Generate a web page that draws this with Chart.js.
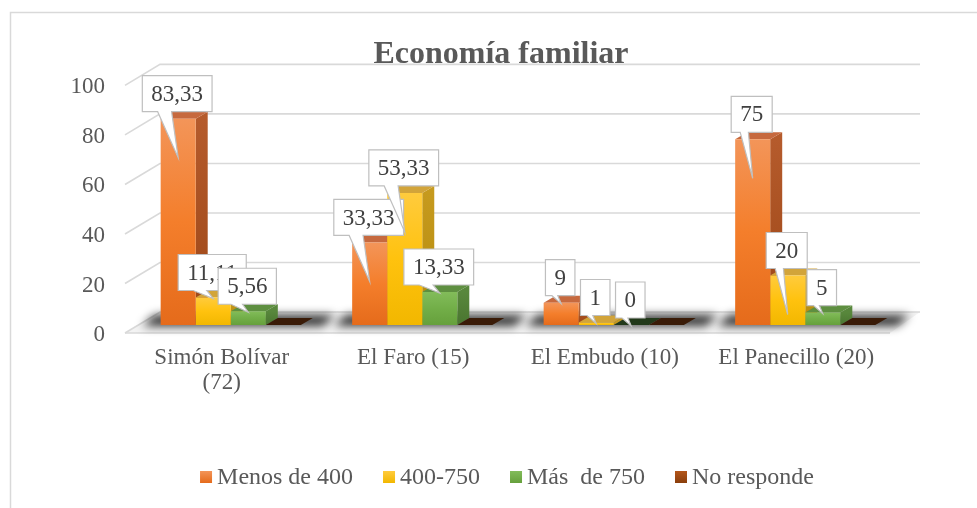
<!DOCTYPE html>
<html>
<head>
<meta charset="utf-8">
<script src="https://cdn.jsdelivr.net/npm/chart.js@4.4.1/dist/chart.umd.min.js"></script>
<style>
    html, body { margin: 0; padding: 0; background: #fff; }
    #wrap { width: 977px; height: 508px; }
</style>
</head>
<body>
<div id="wrap"><canvas id="EconomiaChart" width="977" height="508"></canvas></div>
<script>
// datos
var categorias = [["Simón Bolívar", "(72)"], "El Faro (15)", "El Embudo (10)", "El Panecillo (20)"];
var series = ["Menos de 400", "400-750", "Más  de 750", "No responde"];
var menos400 = [83.33, 33.33, 9, 75];
var de400a750 = [11.11, 53.33, 1, 20];
var mas750 = [5.56, 13.33, 0, 5];
var noResponde = [0, 0, 0, 0];
var mostrarValores = [true, true, true, false];
var yMax = 100, yPaso = 20;

// colores (frente, lado, tapa, tapa sin altura)
var FRENTE = [["#F39559", "#F47E2B", "#E56B1B"], ["#FFCB3D", "#FFC20E", "#F2B700"], ["#82BC5A", "#72AE48", "#66A03C"], ["#B4561A", "#9E480E", "#8A3E0C"]];
var LADO = [["#B55B2C", "#9C4616"], ["#C69A1E", "#B48A0C"], ["#58873C", "#4A7530"], ["#6E320A", "#5A2908"]];
var TAPA = ["#C6693E", "#D2A43A", "#5E8F40", "#4A2208"];
var PLANO = ["#C6693E", "#A8831F", "#22391A", "#3A1B07"];
var FUENTE = "Liberation Serif";
var GRIS = "#595959";
var DX = 12, DY = -7;

function frontFill(i) {
    return function (context) {
        var chart = context.chart;
        if (!chart.chartArea || context.type !== "data") return FRENTE[i][1];
        var y = chart.scales.y;
        var top = y.getPixelForValue(context.raw);
        var base = y.getPixelForValue(0);
        if (base - top < 1) return FRENTE[i][1];
        var g = chart.ctx.createLinearGradient(0, top, 0, base);
        g.addColorStop(0, FRENTE[i][0]);
        g.addColorStop(0.5, FRENTE[i][1]);
        g.addColorStop(1, FRENTE[i][2]);
        return g;
    };
}

function poly(ctx, pts, fill) {
    ctx.beginPath();
    ctx.moveTo(pts[0][0], pts[0][1]);
    for (var k = 1; k < pts.length; k++) ctx.lineTo(pts[k][0], pts[k][1]);
    ctx.closePath();
    ctx.fillStyle = fill;
    ctx.fill();
}

// fondo y marco
var fondoPlugin = {
    id: "fondo",
    beforeDraw: function (chart) {
        var ctx = chart.ctx;
        ctx.save();
        ctx.fillStyle = "#fff";
        ctx.fillRect(0, 0, chart.width, chart.height);
        ctx.strokeStyle = "#D9D9D9";
        ctx.lineWidth = 1.5;
        ctx.beginPath();
        ctx.moveTo(10.5, chart.height);
        ctx.lineTo(10.5, 12.5);
        ctx.lineTo(chart.width, 12.5);
        ctx.stroke();
        ctx.restore();
    }
};

// pared, piso y caras 3D de las barras
var piso3dPlugin = {
    id: "piso3d",
    beforeDatasetsDraw: function (chart) {
        var ctx = chart.ctx, a = chart.chartArea, y = chart.scales.y;
        var xl = a.left - 10, xb = a.left + 25, xr = a.right + 19;
        ctx.save();
        // piso
        var y0 = y.getPixelForValue(0);
        poly(ctx, [[xl, y0 + 8], [a.right - 11, y0 + 8], [xr, y0 - 13], [xb, y0 - 13]], "#F3F3F3");
        // lineas de la pared
        ctx.strokeStyle = "#D9D9D9";
        ctx.lineWidth = 1.6;
        for (var v = 0; v <= yMax; v += yPaso) {
            var py = y.getPixelForValue(v);
            ctx.beginPath();
            ctx.moveTo(xl, py + 8);
            ctx.lineTo(xb, py - 13);
            ctx.lineTo(xr, py - 13);
            ctx.stroke();
        }
        ctx.beginPath();
        ctx.moveTo(xl, y0 + 8);
        ctx.lineTo(a.right - 11, y0 + 8);
        ctx.stroke();
        // sombra bajo las barras
        var metas = chart.data.datasets.map(function (d, i) { return chart.getDatasetMeta(i); });
        ctx.filter = "blur(5px)";
        for (var j = 0; j < chart.data.labels.length; j++) {
            var first = metas[0].data[j], last = metas[metas.length - 1].data[j];
            var x0 = first.x - first.width / 2 - 18, x1 = last.x + last.width / 2 + 22;
            poly(ctx, [[x0, y0 + 1], [x1, y0 + 1], [x1 + DX, y0 + DY - 3], [x0 + DX, y0 + DY - 3]], "rgba(0,0,0,0.8)");
        }
        ctx.filter = "none";
        // caras laterales y tapas
        for (var c = 0; c < chart.data.labels.length; c++) {
            metas.forEach(function (meta, i) {
                var bar = meta.data[c];
                var val = chart.data.datasets[i].data[c];
                var x0 = bar.x - bar.width / 2, x1 = bar.x + bar.width / 2;
                var top = Math.min(bar.y, bar.base), bot = Math.max(bar.y, bar.base);
                if (val === 0 || bot - top < 0.5) {
                    poly(ctx, [[x0, bot], [x1, bot], [x1 + DX, bot + DY], [x0 + DX, bot + DY]], PLANO[i]);
                    return;
                }
                var g = ctx.createLinearGradient(0, top, 0, bot);
                g.addColorStop(0, LADO[i][0]);
                g.addColorStop(1, LADO[i][1]);
                poly(ctx, [[x1, top], [x1 + DX, top + DY], [x1 + DX, bot + DY], [x1, bot]], g);
                poly(ctx, [[x0, top], [x1, top], [x1 + DX, top + DY], [x0 + DX, top + DY]], TAPA[i]);
            });
        }
        ctx.restore();
    }
};

// etiquetas de datos tipo globo
var globosPlugin = {
    id: "globos",
    afterDatasetsDraw: function (chart) {
        var ctx = chart.ctx;
        ctx.save();
        ctx.font = "23px '" + FUENTE + "'";
        ctx.textAlign = "center";
        ctx.textBaseline = "middle";
        chart.data.datasets.forEach(function (ds, i) {
            if (!mostrarValores[i]) return;
            chart.getDatasetMeta(i).data.forEach(function (bar, j) {
                var txt = String(ds.data[j]).replace(".", ",");
                var w = ctx.measureText(txt).width + 18, h = 36;
                var top = Math.min(bar.y, bar.base);
                var cx = bar.x - 1;
                var bottom = top - 7, left = cx - w / 2, right = cx + w / 2, upper = bottom - h;
                var tipY = bar.base - top > 45 ? top + 39 : top + 1;
                ctx.beginPath();
                ctx.moveTo(left, upper);
                ctx.lineTo(right, upper);
                ctx.lineTo(right, bottom);
                ctx.lineTo(cx - w * 0.08, bottom);
                ctx.lineTo(bar.x, tipY);
                ctx.lineTo(cx - w * 0.28, bottom);
                ctx.lineTo(left, bottom);
                ctx.closePath();
                ctx.fillStyle = "#fff";
                ctx.fill();
                ctx.strokeStyle = "#BFBFBF";
                ctx.lineWidth = 1.2;
                ctx.stroke();
                ctx.fillStyle = "#404040";
                ctx.fillText(txt, cx, upper + h / 2 + 1);
            });
        });
        ctx.restore();
    }
};

// leyenda
var leyendaPlugin = {
    id: "leyenda",
    afterDraw: function (chart) {
        var ctx = chart.ctx;
        ctx.save();
        ctx.font = "24px '" + FUENTE + "'";
        ctx.textBaseline = "middle";
        var caja = 12, sep = 5, hueco = 30, cy = 477;
        var total = 0;
        series.forEach(function (s, i) {
            total += caja + sep + ctx.measureText(s).width + (i > 0 ? hueco : 0);
        });
        var x = 507 - total / 2;
        series.forEach(function (s, i) {
            var g = ctx.createLinearGradient(0, cy - caja / 2, 0, cy + caja / 2);
            g.addColorStop(0, FRENTE[i][0]);
            g.addColorStop(1, FRENTE[i][2]);
            ctx.fillStyle = g;
            ctx.fillRect(x, cy - caja / 2, caja, caja);
            x += caja + sep;
            ctx.fillStyle = GRIS;
            ctx.fillText(s, x, cy + 1);
            x += ctx.measureText(s).width + hueco;
        });
        ctx.restore();
    }
};

var valores = [menos400, de400a750, mas750, noResponde];

new Chart("EconomiaChart", {
    type: "bar",
    data: {
        labels: categorias,
        datasets: series.map(function (s, i) {
            return {
                label: s,
                data: valores[i],
                backgroundColor: frontFill(i),
                borderWidth: 0,
                categoryPercentage: 0.732,
                barPercentage: 1
            };
        })
    },
    options: {
        responsive: false,
        animation: false,
        devicePixelRatio: 1,
        layout: { padding: { left: 25, right: 0, top: 0, bottom: 0 } },
        plugins: {
            legend: { display: false },
            tooltip: { enabled: false },
            title: {
                display: true,
                text: "Economía familiar",
                color: GRIS,
                font: { family: FUENTE, size: 32, weight: "bold", lineHeight: 1.2 },
                padding: { top: 36, bottom: 3 }
            }
        },
        scales: {
            x: {
                grid: { display: false, drawTicks: false },
                border: { display: false },
                ticks: {
                    color: GRIS,
                    font: { family: FUENTE, size: 23, lineHeight: 1.1 },
                    padding: 20,
                    labelOffset: -9,
                    maxRotation: 0,
                    autoSkip: false
                },
                afterFit: function (scale) { scale.height = 183; }
            },
            y: {
                min: 0,
                max: yMax,
                grid: { display: false, drawTicks: false },
                border: { display: false },
                ticks: {
                    stepSize: yPaso,
                    color: GRIS,
                    font: { family: FUENTE, size: 23 },
                    padding: 30,
                    labelOffset: 10
                },
                afterFit: function (scale) { scale.width = 110; }
            },
            margenDer: {
                type: "linear",
                position: "right",
                grid: { display: false, drawTicks: false },
                border: { display: false },
                ticks: { display: false },
                afterFit: function (scale) { scale.width = 76; }
            }
        }
    },
    plugins: [fondoPlugin, piso3dPlugin, globosPlugin, leyendaPlugin]
});
</script>
</body>
</html>
